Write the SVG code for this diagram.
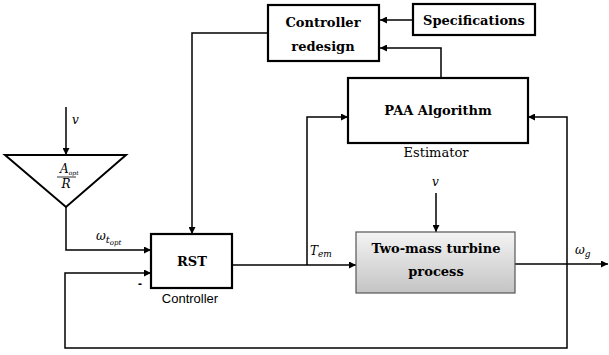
<svg xmlns="http://www.w3.org/2000/svg" width="609" height="355" viewBox="0 0 609 355">
<style>
.box{fill:#fff;stroke:#000;stroke-width:2.2}
.ln{fill:none;stroke:#000;stroke-width:1.5}
.bt{font-family:"DejaVu Serif",serif;font-weight:bold;font-size:13px;text-anchor:middle}
.lb{font-family:"DejaVu Serif",serif;font-size:13px;text-anchor:middle}
.lbs{font-family:"Liberation Sans",sans-serif;font-size:13px;text-anchor:middle}
.m{font-family:"DejaVu Serif",serif;font-style:italic;font-size:12px}
</style>
<defs>
<marker id="ah" viewBox="0 0 10 10" refX="10" refY="5" markerWidth="7" markerHeight="7" markerUnits="userSpaceOnUse" orient="auto">
<path d="M0,0 L10,5 L0,10 z" fill="#000"/>
</marker>
<linearGradient id="g" x1="0" y1="0" x2="0" y2="1">
<stop offset="0" stop-color="#f4f4f4"/>
<stop offset="1" stop-color="#c4c4c4"/>
</linearGradient>
</defs>
<g id="connectors">
<path class="ln" d="M413,20 H380" marker-end="url(#ah)"/>
<path class="ln" d="M441,78 V48 H380" marker-end="url(#ah)"/>
<path class="ln" d="M268,33 H192 V234" marker-end="url(#ah)"/>
<path class="ln" d="M66,107 V155" marker-end="url(#ah)"/>
<path class="ln" d="M66,207 V250 H151" marker-end="url(#ah)"/>
<path class="ln" d="M232,265 H356" marker-end="url(#ah)"/>
<path class="ln" d="M307,265 V117 H348" marker-end="url(#ah)"/>
<path class="ln" d="M436,193 V232" marker-end="url(#ah)"/>
<path class="ln" d="M515,264 H608" marker-end="url(#ah)"/>
<path class="ln" d="M567,264 V117 H528" marker-end="url(#ah)"/>
<path class="ln" d="M567,264 V348 H65 V273 H151" marker-end="url(#ah)"/>
</g>
<g id="redesign">
<rect class="box" x="268" y="5" width="111" height="56"/>
<text class="bt" x="323" y="27">Controller</text>
<text class="bt" x="323" y="51">redesign</text>
</g>
<g id="specs">
<rect class="box" x="413" y="4" width="122" height="31"/>
<text class="bt" x="474" y="25">Specifications</text>
</g>
<g id="paa">
<rect class="box" x="348" y="78" width="180" height="65"/>
<text class="bt" x="438" y="115" font-size="14">PAA Algorithm</text>
<text class="lb" x="436" y="157">Estimator</text>
</g>
<g id="turbine">
<rect x="356" y="232" width="159" height="61" fill="url(#g)" stroke="#555" stroke-width="1.2"/>
<text class="bt" x="436" y="253">Two-mass turbine</text>
<text class="bt" x="436" y="276">process</text>
<text class="m" x="432" y="186">v</text>
</g>
<g id="rst">
<rect class="box" x="151" y="234" width="81" height="54"/>
<text class="bt" x="192" y="266" font-size="15">RST</text>
<text class="lbs" x="190" y="303">Controller</text>
<text x="140" y="288" font-family="Liberation Sans,sans-serif" font-weight="bold" font-size="12" text-anchor="middle">-</text>
</g>
<g id="gain">
<polygon points="5,155 126,155 66,207" fill="#fff" stroke="#000" stroke-width="2"/>
<text class="m" x="60" y="173" font-size="8">A<tspan font-size="6" dy="2">opt</tspan></text>
<line x1="57" y1="177" x2="76" y2="177" stroke="#000" stroke-width="0.8"/>
<text class="m" x="66" y="188" font-size="9" text-anchor="middle">R</text>
<text class="m" x="72" y="124">v</text>
</g>
<g id="labels">
<text class="m" x="96" y="240">ω<tspan font-size="10" dy="3">t</tspan><tspan font-size="7" dy="2">opt</tspan></text>
<text class="m" x="310" y="255">T<tspan font-size="9" dy="2">em</tspan></text>
<text class="m" x="575" y="254">ω<tspan font-size="9" dy="3">g</tspan></text>
</g>
</svg>
